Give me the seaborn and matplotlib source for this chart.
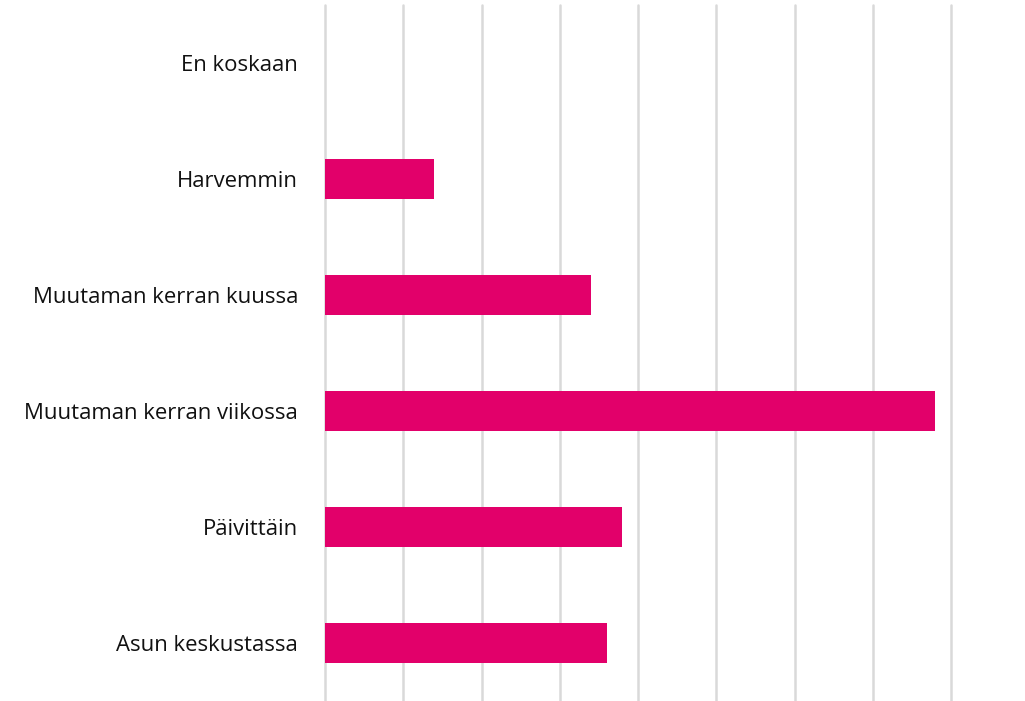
import numpy as np
import pandas as pd
import seaborn as sns
import matplotlib.pyplot as plt

### Data (grid step = 5)
categories = ['En koskaan', 'Harvemmin', 'Muutaman kerran kuussa',
              'Muutaman kerran viikossa', 'Päivittäin', 'Asun keskustassa']
values = [0, 6.95, 17.0, 39.0, 19.0, 18.0]

df = pd.DataFrame({'category': categories, 'value': values})

sns.set_style("white")
plt.rcParams['font.family'] = ['Open Sans', 'DejaVu Sans']

fig = plt.figure(figsize=(10.25, 7.01), dpi=100)
ax = fig.add_axes([325 / 1025, 0, (951 - 325) / 1025, 696 / 701])

sns.barplot(data=df, x='value', y='category', color='#E2006A',
            saturation=1, width=0.35, linewidth=0, ax=ax, zorder=3)

### x grid only, no tick labels
ax.set_xlim(0, 40)
ax.set_ylim(5.5, -0.5)
ax.set_xticks(np.arange(0, 41, 5))
ax.set_xticklabels([])
ax.grid(axis='x', color='#D9D9D9', linewidth=1.8, zorder=0)
for gl in ax.get_xgridlines():
    gl.set_clip_on(False)
ax.tick_params(axis='both', length=0)
ax.tick_params(axis='y', labelsize=15.9, pad=19.5, colors='#111111')
for s in ax.spines.values():
    s.set_visible(False)
ax.set_xlabel('')
ax.set_ylabel('')

fig.savefig('out.png', dpi=100)
